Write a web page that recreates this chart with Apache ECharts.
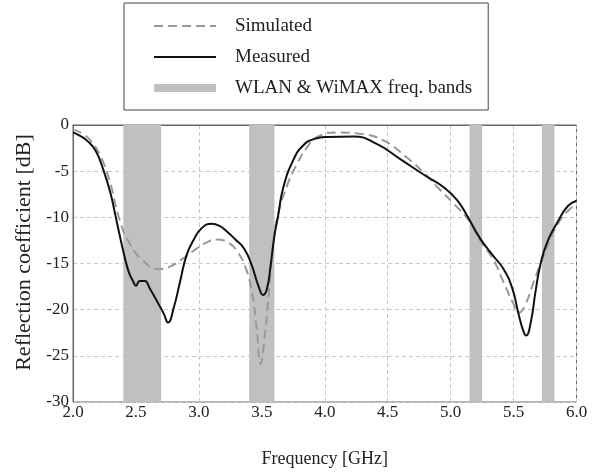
<!DOCTYPE html>
<html>
<head>
<meta charset="utf-8">
<script src="https://cdn.jsdelivr.net/npm/echarts@6/dist/echarts.min.js"></script>
<style>
html,body{margin:0;padding:0;background:#fff;}
#c{width:606px;height:473px;}
</style>
</head>
<body>
<div id="c"></div>
<script>
// Data
var measFreq = [2.00,2.06,2.12,2.18,2.24,2.30,2.34,2.39,2.44,2.48,2.50,2.53,2.57,2.61,2.68,2.72,2.755,2.80,2.85,2.90,2.96,3.02,3.10,3.16,3.22,3.29,3.36,3.42,3.475,3.51,3.54,3.57,3.60,3.63,3.67,3.75,3.83,3.92,4.02,4.23,4.42,4.60,4.80,4.95,5.05,5.13,5.23,5.34,5.42,5.49,5.54,5.58,5.60,5.635,5.675,5.715,5.77,5.85,5.93,6.00];
var measDb   = [-0.8,-1.2,-1.8,-2.8,-4.8,-7.5,-10.0,-13.1,-15.8,-17.0,-17.4,-16.9,-16.9,-17.7,-19.4,-20.4,-21.4,-19.8,-17.0,-14.2,-12.4,-11.2,-10.7,-10.9,-11.5,-12.4,-13.4,-15.2,-17.5,-18.4,-17.8,-15.2,-12.0,-9.8,-6.8,-3.8,-2.2,-1.5,-1.3,-1.25,-2.1,-3.7,-5.5,-6.8,-8.1,-9.8,-12.2,-14.2,-15.6,-17.7,-20.5,-22.4,-22.8,-21.5,-18.0,-15.0,-12.6,-10.5,-8.8,-8.2];

var simFreq = [2.00,2.07,2.14,2.22,2.30,2.36,2.44,2.55,2.68,2.76,2.87,2.97,3.05,3.14,3.24,3.31,3.37,3.42,3.46,3.49,3.52,3.555,3.585,3.62,3.70,3.78,3.86,3.94,4.10,4.28,4.47,4.65,4.79,4.90,5.03,5.16,5.24,5.34,5.42,5.49,5.545,5.595,5.66,5.715,5.79,5.87,5.94,6.00];
var simDb   = [-0.5,-0.9,-1.7,-3.4,-6.5,-9.8,-12.6,-14.6,-15.6,-15.4,-14.5,-13.5,-12.8,-12.4,-12.8,-13.8,-15.4,-18.0,-22.2,-25.9,-23.3,-18.4,-13.8,-10.2,-6.6,-4.2,-2.4,-1.3,-0.8,-0.95,-1.7,-3.5,-5.2,-6.8,-8.6,-10.6,-12.6,-14.6,-17.0,-19.1,-20.3,-19.4,-17.0,-15.0,-12.4,-10.3,-9.2,-8.6];

var bandStart = [2.4, 3.4, 5.15, 5.725];
var bandEnd   = [2.7, 3.6, 5.25, 5.825];

var xTicks = ['2.0','2.5','3.0','3.5','4.0','4.5','5.0','5.5','6.0'];
var yTicks = ['-30','-25','-20','-15','-10','-5','0'];

var seriesNames = ['Simulated', 'Measured', 'WLAN & WiMAX freq. bands'];

function zip(a, b) { return a.map(function (v, i) { return [v, b[i]]; }); }

var FONT = 'Liberation Serif';
var chart = echarts.init(document.getElementById('c'), null, {renderer: 'canvas'});

var option = {
  animation: false,
  backgroundColor: '#ffffff',
  legend: {
    orient: 'vertical',
    left: 124,
    top: 3,
    data: [
      {name: seriesNames[0]},
      {name: seriesNames[1]},
      {name: seriesNames[2], lineStyle: {width: 8, color: '#c0c0c0'}}
    ],
    itemWidth: 62,
    itemHeight: 14,
    itemGap: 11,
    padding: [13, 16, 12, 26],
    borderColor: '#444',
    borderWidth: 1,
    backgroundColor: '#fff',
    selectedMode: false,
    itemStyle: {opacity: 0},
    textStyle: {fontFamily: FONT, fontSize: 19, color: '#222', lineHeight: 20, padding: [0, 0, 0, 14]}
  },
  grid: {
    left: 73, top: 125, right: 29.5, bottom: 61.5,
    show: true, borderColor: '#666', borderWidth: 1, containLabel: false
  },
  xAxis: {
    type: 'value', min: 2, max: 6, interval: 0.5,
    name: 'Frequency [GHz]', nameLocation: 'middle', nameGap: 48,
    nameTextStyle: {fontFamily: FONT, fontSize: 18, color: '#222'},
    axisLine: {show: true, lineStyle: {color: '#666', width: 1}},
    axisTick: {show: false},
    axisLabel: {
      margin: 2, fontFamily: FONT, fontSize: 17, color: '#222',
      formatter: function (v) { var s = v.toFixed(1); return xTicks.indexOf(s) >= 0 ? s : ''; }
    },
    splitLine: {show: true, lineStyle: {color: '#c8c8c8', type: [4, 3], width: 1}}
  },
  yAxis: {
    type: 'value', min: -30, max: 0, interval: 5,
    name: 'Reflection coefficient [dB]', nameLocation: 'middle', nameGap: 35,
    nameTextStyle: {fontFamily: FONT, fontSize: 22, color: '#222', padding: [0, 0, 0, 22]},
    axisLine: {show: true, lineStyle: {color: '#666', width: 1}},
    axisTick: {show: false},
    axisLabel: {
      margin: 4, fontFamily: FONT, fontSize: 17, color: '#222',
      formatter: function (v) { var s = String(Math.round(v)); return yTicks.indexOf(s) >= 0 ? s : ''; }
    },
    splitLine: {show: true, lineStyle: {color: '#c8c8c8', type: [4, 3], width: 1}}
  },
  series: [
    {
      name: seriesNames[2], type: 'line', data: [], symbol: 'none',
      lineStyle: {color: '#c0c0c0', width: 8},
      itemStyle: {color: '#c0c0c0'},
      z: 1,
      markArea: {
        silent: true,
        itemStyle: {color: '#c0c0c0', opacity: 1},
        data: bandStart.map(function (s, i) { return [{xAxis: s}, {xAxis: bandEnd[i]}]; })
      }
    },
    {
      name: seriesNames[0], type: 'line', data: zip(simFreq, simDb),
      symbol: 'none', smooth: 0.5, z: 3,
      lineStyle: {color: '#999999', width: 2, type: [9, 5]},
      itemStyle: {color: '#999999'}
    },
    {
      name: seriesNames[1], type: 'line', data: zip(measFreq, measDb),
      symbol: 'none', smooth: 0.5, z: 4,
      lineStyle: {color: '#111111', width: 2},
      itemStyle: {color: '#111111'}
    }
  ]
};
chart.setOption(option);
</script>
</body>
</html>
